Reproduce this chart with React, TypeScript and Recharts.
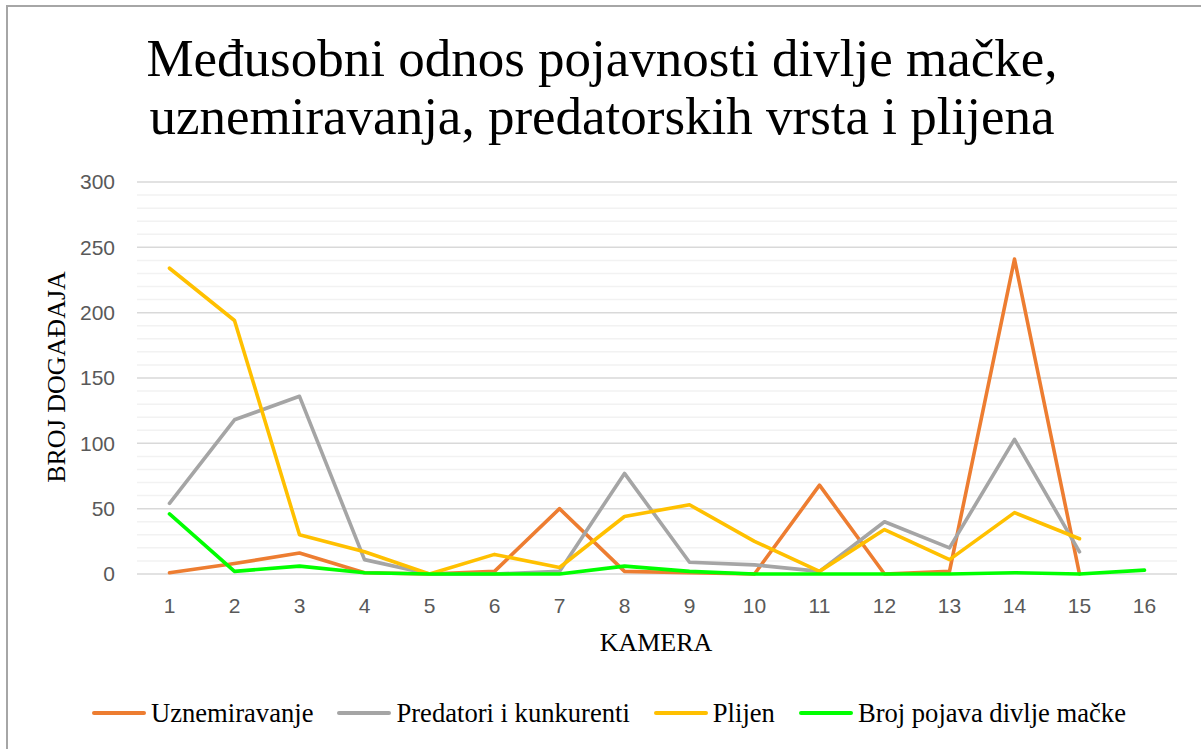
import React from "react";
import { LineChart, Line, XAxis, YAxis, CartesianGrid, ReferenceLine } from "recharts";

const kamera = ["1", "2", "3", "4", "5", "6", "7", "8", "9", "10", "11", "12", "13", "14", "15", "16"];
const uznemiravanje = [1, 8, 16, 1, 0, 2, 50, 2, 1, 0, 68, 0, 2, 241, 0, null];
const predatori = [54, 118, 136, 11, 0, 0, 2, 77, 9, 7, 2, 40, 20, 103, 17, null];
const plijen = [234, 194, 30, 17, 0, 15, 5, 44, 53, 25, 2, 34, 11, 47, 27, null];
const divljaMacka = [46, 2, 6, 1, 0, 0, 0, 6, 2, 0, 0, 0, 0, 1, 0, 3];

const majorTicks = [0, 50, 100, 150, 200, 250, 300];
const minorTicks = [10, 20, 30, 40, 60, 70, 80, 90, 110, 120, 130, 140, 160, 170, 180, 190, 210, 220, 230, 240, 260, 270, 280, 290];

const series = [
  { key: "uznemiravanje", name: "Uznemiravanje", color: "#ED7D31" },
  { key: "predatori", name: "Predatori i kunkurenti", color: "#A5A5A5" },
  { key: "plijen", name: "Plijen", color: "#FFC000" },
  { key: "divljaMacka", name: "Broj pojava divlje mačke", color: "#00FF00" },
];

const data = kamera.map((k, i) => ({
  kamera: k,
  uznemiravanje: uznemiravanje[i],
  predatori: predatori[i],
  plijen: plijen[i],
  divljaMacka: divljaMacka[i],
}));

const serif = "'Liberation Serif', 'Times New Roman', serif";
const sans = "'Liberation Sans', Arial, sans-serif";

export default function App() {
  return (
    <div style={{ position: "absolute", left: 0, top: 0, width: 1201, height: 749, overflow: "hidden", background: "#fff" }}>
      <div style={{ position: "absolute", left: 6, top: 5, width: 1400, height: 1000, border: "2px solid #a6a6a6", boxSizing: "border-box" }} />
      <div
        style={{
          position: "absolute",
          left: 2,
          top: 29,
          width: 1200,
          textAlign: "center",
          fontFamily: serif,
          fontSize: 53,
          lineHeight: "58px",
          color: "#000",
        }}
      >
        Međusobni odnos pojavnosti divlje mačke,
        <br />
        uznemiravanja, predatorskih vrsta i plijena
      </div>
      <LineChart
        width={1201}
        height={749}
        data={data}
        margin={{ top: 182, right: 24, bottom: 145, left: 77 }}
        style={{ position: "absolute", left: 0, top: 0 }}
      >
        {minorTicks.map((t) => (
          <ReferenceLine key={t} y={t} stroke="#f2f2f2" strokeWidth={1.5} ifOverflow="visible" />
        ))}
        <CartesianGrid vertical={false} stroke="#d9d9d9" strokeWidth={1.5} />
        <XAxis
          dataKey="kamera"
          axisLine={false}
          tickLine={false}
          tickSize={0}
          tickMargin={24}
          height={30}
          padding={{ left: 32.5, right: 32.5 }}
          interval={0}
          tick={{ fill: "#595959", fontSize: 21, fontFamily: sans }}
        />
        <YAxis
          domain={[0, 300]}
          ticks={majorTicks}
          axisLine={false}
          tickLine={false}
          tickSize={0}
          tickMargin={22}
          width={60}
          interval={0}
          tick={{ fill: "#595959", fontSize: 21, fontFamily: sans }}
        />
        {series.map((s) => (
          <Line
            key={s.key}
            type="linear"
            dataKey={s.key}
            name={s.name}
            stroke={s.color}
            strokeWidth={3.6}
            strokeLinecap="round"
            strokeLinejoin="round"
            dot={false}
            activeDot={false}
            isAnimationActive={false}
          />
        ))}
      </LineChart>
      <div
        style={{
          position: "absolute",
          left: 57 - 150,
          top: 377 - 15,
          width: 300,
          height: 30,
          lineHeight: "30px",
          textAlign: "center",
          fontFamily: serif,
          fontSize: 26,
          color: "#000",
          transform: "rotate(-90deg)",
          whiteSpace: "nowrap",
        }}
      >
        BROJ DOGAĐAJA
      </div>
      <div
        style={{
          position: "absolute",
          left: 656 - 150,
          top: 652 - 24,
          width: 300,
          lineHeight: "30px",
          textAlign: "center",
          fontFamily: serif,
          fontSize: 26,
          color: "#000",
        }}
      >
        KAMERA
      </div>
      <div
        style={{
          position: "absolute",
          left: 92,
          top: 698,
          height: 30,
          display: "flex",
          alignItems: "center",
          fontFamily: serif,
          fontSize: 26.6,
          lineHeight: "30px",
          color: "#000",
          whiteSpace: "nowrap",
        }}
      >
        {series.map((s) => (
          <div key={s.key} style={{ display: "flex", alignItems: "center", marginRight: 24 }}>
            <div style={{ width: 54, height: 3.5, background: s.color, borderRadius: 2, marginRight: 5 }} />
            <span>{s.name}</span>
          </div>
        ))}
      </div>
    </div>
  );
}
